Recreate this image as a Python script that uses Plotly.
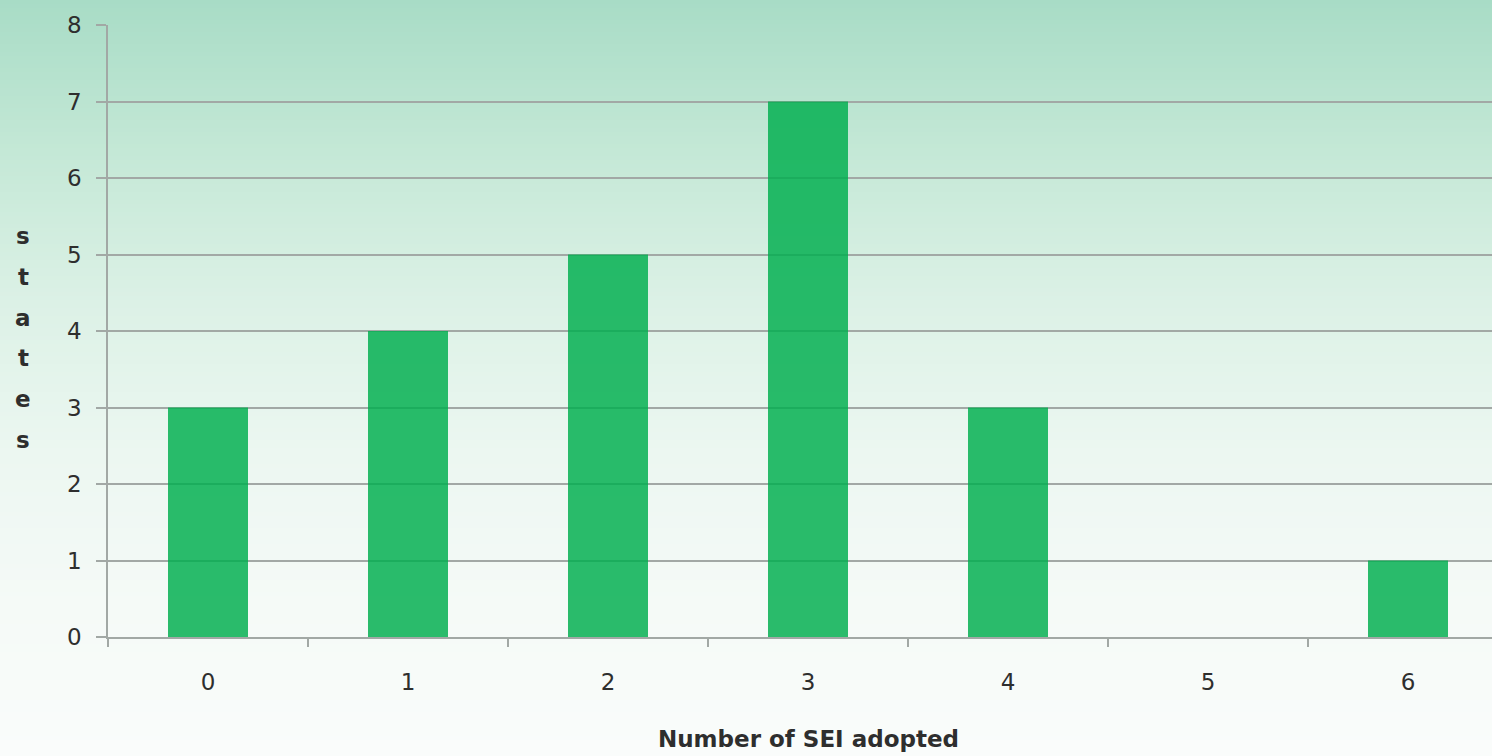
import plotly.graph_objects as go

# Distribution of states by number of SEI adopted
categories = ["0", "1", "2", "3", "4", "5", "6"]
states = [3, 4, 5, 7, 3, 0, 1]
y_ticks = [0, 1, 2, 3, 4, 5, 6, 7, 8]

W, H = 1492, 756
ML, MT, MB, MR = 108, 25, 119, 0
plot_w = W - ML - MR
plot_h = H - MT - MB

TEXT = "#2e2e2e"
GRID = "#a2a8a5"
FONT = "DejaVu Sans"

# vertical background gradient (mint at the top fading to white)
stops = [
    (0.0, (168, 220, 198)),
    (0.2, (196, 232, 214)),
    (0.4, (220, 241, 230)),
    (0.6, (236, 247, 241)),
    (0.8, (245, 250, 247)),
    (1.0, (250, 252, 251)),
]


def grad_color(t):
    for (t0, c0), (t1, c1) in zip(stops[:-1], stops[1:]):
        if t <= t1:
            f = (t - t0) / (t1 - t0)
            return "rgb(%d,%d,%d)" % tuple(round(a + (b - a) * f) for a, b in zip(c0, c1))
    return "rgb(%d,%d,%d)" % stops[-1][1]


shapes = []
n_strips = 189
strip = H / n_strips
for i in range(n_strips):
    top_px = i * strip
    bot_px = min(H, top_px + strip + 1)
    t = (top_px + strip / 2) / H
    shapes.append(dict(
        type="rect", xref="paper", yref="paper", layer="below",
        x0=-ML / plot_w, x1=1 + 0.01,
        y0=(H - MB - bot_px) / plot_h, y1=(H - MB - top_px) / plot_h,
        fillcolor=grad_color(t), line=dict(width=0),
    ))

fig = go.Figure(go.Bar(
    x=categories, y=states, width=0.4,
    marker=dict(color="rgba(0,174,78,0.83)", line=dict(width=0)),
    hoverinfo="skip",
))

annotations = [dict(
    text="<b>Number of SEI adopted</b>", x="3", xref="x", y=-(739 - (H - MB)) / plot_h,
    yref="paper", showarrow=False, xanchor="center", yanchor="middle",
    font=dict(family=FONT, size=23, color=TEXT),
)]
# vertically stacked y-axis title
for k, ch in enumerate("states"):
    y_px = 236 + k * 40.8
    annotations.append(dict(
        text="<b>%s</b>" % ch, x=-(ML - 23) / plot_w, xref="paper",
        y=(H - MB - y_px) / plot_h, yref="paper", showarrow=False,
        xanchor="center", yanchor="middle",
        font=dict(family=FONT, size=23, color=TEXT),
    ))

fig.update_layout(
    width=W, height=H,
    margin=dict(l=ML, r=MR, t=MT, b=MB, pad=0),
    paper_bgcolor="white", plot_bgcolor="rgba(0,0,0,0)",
    shapes=shapes, annotations=annotations,
    showlegend=False, bargap=0.6,
    font=dict(family=FONT, size=23, color=TEXT),
)
fig.update_xaxes(
    type="category", categoryorder="array", categoryarray=categories,
    range=[-0.5, -0.5 + plot_w / 200], tickson="boundaries",
    ticks="outside", ticklen=8, tickcolor=GRID, tickwidth=1.5,
    showline=True, linecolor=GRID, linewidth=1.5,
    showgrid=False, zeroline=False, ticklabelstandoff=24,
    tickfont=dict(family=FONT, size=23, color=TEXT),
)
fig.update_yaxes(
    range=[0, 8], tickvals=y_ticks, ticks="outside", ticklen=10,
    tickcolor=GRID, tickwidth=1.5,
    showline=True, linecolor=GRID, linewidth=1.5,
    showgrid=True, gridcolor=GRID, gridwidth=1.8, zeroline=False,
    ticklabelstandoff=10,
    tickfont=dict(family=FONT, size=23, color=TEXT),
)

fig.write_html("out.html")
